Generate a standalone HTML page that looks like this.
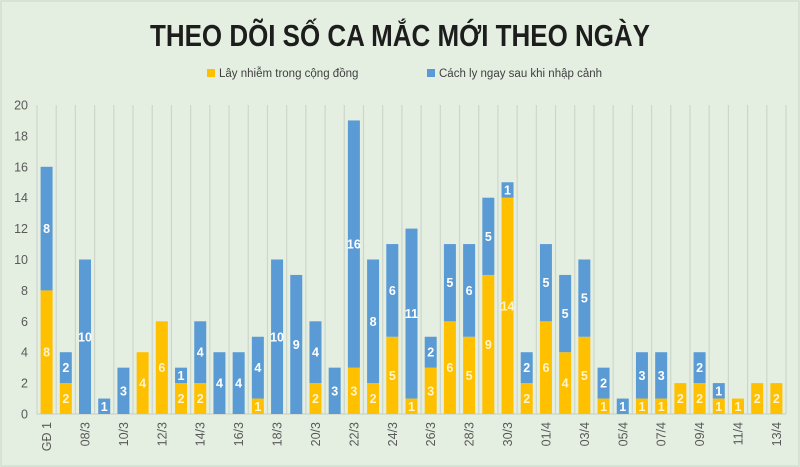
<!DOCTYPE html>
<html><head><meta charset="utf-8">
<style>
html,body{margin:0;padding:0;background:#e4efe1;}
svg{display:block;font-family:"Liberation Sans",sans-serif;}
</style></head>
<body>
<svg id="chart" width="800" height="467" viewBox="0 0 800 467">
<rect x="0" y="0" width="800" height="467" fill="#e4efe1"/>
<rect x="1" y="1" width="798" height="465" fill="none" stroke="#c9d6c6"/>
<text x="400" y="46" text-anchor="middle" font-size="31" font-weight="bold" fill="#1d1d1d" textLength="500" lengthAdjust="spacingAndGlyphs">THEO DÕI SỐ CA MẮC MỚI THEO NGÀY</text>
<g>
<g>
<rect x="207" y="69" width="8" height="8" fill="#ffc000"/>
<text x="219" y="77" font-size="11.5" fill="#404040">Lây nhiễm trong cộng đồng</text>
</g>
<g>
<rect x="427" y="69" width="8" height="8" fill="#5b9bd5"/>
<text x="439" y="77" font-size="11.5" fill="#404040">Cách ly ngay sau khi nhập cảnh</text>
</g>
</g>
<g id="grid"></g>
<g id="yaxis"></g>
<g id="bars"></g>
<g id="xaxis"></g>
</svg>
<script>
const categories = ["GĐ 1","07/3","08/3","09/3","10/3","11/3","12/3","13/3","14/3","15/3","16/3","17/3","18/3","19/3","20/3","21/3","22/3","23/3","24/3","25/3","26/3","27/3","28/3","29/3","30/3","31/3","01/4","02/4","03/4","04/4","05/4","06/4","07/4","08/4","09/4","10/4","11/4","12/4","13/4"];
const community = [8,2,0,0,0,4,6,2,2,0,0,1,0,0,2,0,3,2,5,1,3,6,5,9,14,2,6,4,5,1,0,1,1,2,2,1,1,2,2];
const imported = [8,2,10,1,3,0,0,1,4,4,4,4,10,9,4,3,16,8,6,11,2,5,6,5,1,2,5,5,5,2,1,3,3,0,2,1,0,0,0];
const yTicks = [0,2,4,6,8,10,12,14,16,18,20];

const NS="http://www.w3.org/2000/svg";
const L=37,R=786,T=105,B=414,yMax=20;
const step=(R-L)/categories.length;
const bw=12;
function y(v){return B-(v/yMax)*(B-T);}
function xc(i){return L+step*(i+0.5);}
function mk(tag,attrs,parent){const e=document.createElementNS(NS,tag);for(const k in attrs)e.setAttribute(k,attrs[k]);parent.appendChild(e);return e;}
const grid=document.getElementById('grid'),ya=document.getElementById('yaxis'),bars=document.getElementById('bars'),xa=document.getElementById('xaxis');
for(let i=0;i<=categories.length;i++){
  const gl=mk('line',{x1:L+step*i,x2:L+step*i,y1:T,y2:B,stroke:'#cdd6cb','stroke-width':1.2},grid);
  
  
}
mk('line',{x1:L,x2:R,y1:B,y2:B,stroke:'#c4cec1','stroke-width':1},grid);
yTicks.forEach(t=>{
  const tx=mk('text',{x:L-9,y:y(t)+4.5,'text-anchor':'end','font-size':12.5,fill:'#595959'},ya);
  tx.textContent=t;
  
  
});
categories.forEach((c,i)=>{
  const cx=xc(i);
  const a=community[i],b=imported[i];
  if(a>0){
    const r=mk('rect',{x:cx-bw/2,y:y(a),width:bw,height:B-y(a),fill:'#ffc000'},bars);
    
    
    const t=mk('text',{x:cx,y:(y(a)+B)/2+4.5,'text-anchor':'middle','font-size':12.5,'font-weight':'bold',fill:'#fff5cc'},bars);
    t.textContent=a;
    
    
  }
  if(b>0){
    const r=mk('rect',{x:cx-bw/2,y:y(a+b),width:bw,height:y(a)-y(a+b),fill:'#5b9bd5'},bars);
    
    
    const t=mk('text',{x:cx,y:(y(a)+y(a+b))/2+4.5,'text-anchor':'middle','font-size':12.5,'font-weight':'bold',fill:'#ffffff'},bars);
    t.textContent=b;
    
    
  }
  if(i%2===0){
    const t=mk('text',{x:0,y:0,'text-anchor':'end','font-size':12.5,fill:'#595959',transform:`translate(${cx+4.5},${B+8}) rotate(-90)`},xa);
    t.textContent=c;
    
    
  }
});
</script>
</body></html>
